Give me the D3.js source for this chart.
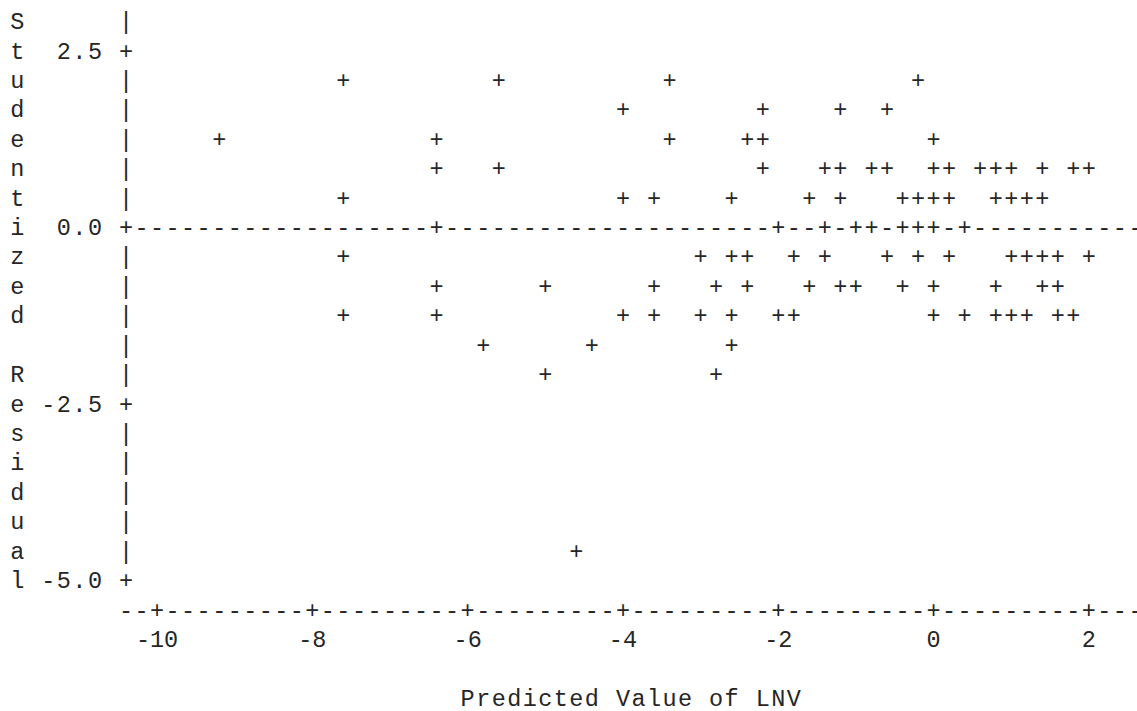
<!DOCTYPE html>
<html>
<head>
<meta charset="utf-8">
<script src="https://cdn.jsdelivr.net/npm/d3@7"></script>
<style>
  html, body { margin: 0; padding: 0; background: #fff; }
  svg { display: block; }
  text { font-family: "Liberation Mono", "DejaVu Sans Mono", monospace; font-size: 23.5px; fill: #262626; }
</style>
</head>
<body>
<svg id="chart" width="1137" height="711"></svg>
<script>
// ---- data ----
const predicted = [
  -7.6, -5.6, -3.4, -0.2,
  -4.0, -2.2, -1.2, -0.6,
  -9.2, -6.4, -3.4, -2.4, -2.2, 0.0,
  -6.4, -5.6, -2.2, -1.4, -1.2, -0.8, -0.6, 0.0, 0.2, 0.6, 0.8, 1.0, 1.4, 1.8, 2.0,
  -7.6, -4.0, -3.6, -2.6, -1.6, -1.2, -0.4, -0.2, 0.0, 0.2, 0.8, 1.0, 1.2, 1.4,
  -6.4, -2.0, -1.4, -1.0, -0.8, -0.4, -0.2, 0.0, 0.4,
  -7.6, -3.0, -2.6, -2.4, -1.8, -1.4, -0.6, -0.2, 0.2, 1.0, 1.2, 1.4, 1.6, 2.0,
  -6.4, -5.0, -3.6, -2.8, -2.4, -1.6, -1.2, -1.0, -0.4, 0.0, 0.8, 1.4, 1.6,
  -7.6, -6.4, -4.0, -3.6, -3.0, -2.6, -2.0, -1.8, 0.0, 0.4, 0.8, 1.0, 1.2, 1.6, 1.8,
  -5.8, -4.4, -2.6,
  -5.0, -2.8,
  -4.6
];
const residual = [
  2.08, 2.08, 2.08, 2.08,
  1.67, 1.67, 1.67, 1.67,
  1.25, 1.25, 1.25, 1.25, 1.25, 1.25,
  0.83, 0.83, 0.83, 0.83, 0.83, 0.83, 0.83, 0.83, 0.83, 0.83, 0.83, 0.83, 0.83, 0.83, 0.83,
  0.42, 0.42, 0.42, 0.42, 0.42, 0.42, 0.42, 0.42, 0.42, 0.42, 0.42, 0.42, 0.42, 0.42,
  0, 0, 0, 0, 0, 0, 0, 0, 0,
  -0.42, -0.42, -0.42, -0.42, -0.42, -0.42, -0.42, -0.42, -0.42, -0.42, -0.42, -0.42, -0.42, -0.42,
  -0.83, -0.83, -0.83, -0.83, -0.83, -0.83, -0.83, -0.83, -0.83, -0.83, -0.83, -0.83, -0.83,
  -1.25, -1.25, -1.25, -1.25, -1.25, -1.25, -1.25, -1.25, -1.25, -1.25, -1.25, -1.25, -1.25, -1.25, -1.25,
  -1.67, -1.67, -1.67,
  -2.08, -2.08,
  -4.58
];
const xTicks = [-10, -8, -6, -4, -2, 0, 2];
const xTickLabels = ["-10", "-8", "-6", "-4", "-2", "0", "2"];
const yTicks = [2.5, 0.0, -2.5, -5.0];
const yTickLabels = ["2.5", "0.0", "-2.5", "-5.0"];
const yTitle = "Studentized Residual";
const xTitle = "Predicted Value of LNV";
const refValue = 0;

// ---- character grid geometry ----
const CW = 15.53, RH = 29.42;   // cell width / height
const X0 = 126, Y0 = 21.1;      // centre of column 0 / row 0
const BASE = 8;                 // baseline offset from cell centre
const colX = c => X0 + c * CW;
const rowY = r => Y0 + r * RH;

const x = d3.scaleLinear().domain([-10, 2]).range([colX(2), colX(62)]);
const y = d3.scaleLinear().domain([2.5, -5]).range([rowY(1), rowY(19)]);
const toCol = px => Math.round((px - X0) / CW);
const toRow = py => Math.round((py - Y0) / RH);

const svg = d3.select("#chart");
const grid = new Map();
const put = (c, r, ch) => grid.set(c + "," + r, {c, r, ch});

const axisRow = toRow(y(-5)) + 1;
const topRow = toRow(y(2.5)) - 1;
const lastCol = 65;

// vertical axis
const yTickRows = yTicks.map(v => toRow(y(v)));
for (let r = topRow; r < axisRow; r++) put(0, r, yTickRows.includes(r) ? "+" : "|");
// reference line at 0
const refRow = toRow(y(refValue));
for (let c = 1; c <= lastCol; c++) put(c, refRow, "-");
// horizontal axis
const xTickCols = xTicks.map(v => toCol(x(v)));
for (let c = 0; c <= lastCol; c++) put(c, axisRow, xTickCols.includes(c) ? "+" : "-");
// points
predicted.forEach((p, i) => put(toCol(x(p)), toRow(y(residual[i])), "+"));
// y tick labels (right aligned, one blank before axis)
yTicks.forEach((v, i) => {
  const s = yTickLabels[i], r = toRow(y(v));
  for (let k = 0; k < s.length; k++) put(-1 - s.length + k, r, s[k]);
});
// vertical title
for (let k = 0; k < yTitle.length; k++) if (yTitle[k] !== " ") put(-7, topRow + k, yTitle[k]);
// x title centred under the axis
const titleStart = Math.round(lastCol / 2 - xTitle.length / 2);
for (let k = 0; k < xTitle.length; k++) if (xTitle[k] !== " ") put(titleStart + k, axisRow + 3, xTitle[k]);

svg.append("g").selectAll("text")
  .data(Array.from(grid.values()))
  .join("text")
  .attr("x", d => colX(d.c))
  .attr("y", d => rowY(d.r) + BASE)
  .attr("text-anchor", "middle")
  .text(d => d.ch);

// x tick labels centred on ticks
svg.append("g").selectAll("text")
  .data(xTicks)
  .join("text")
  .attr("x", d => x(d))
  .attr("y", rowY(axisRow + 1) + BASE)
  .attr("text-anchor", "middle")
  .text((d, i) => xTickLabels[i]);
</script>
</body>
</html>
